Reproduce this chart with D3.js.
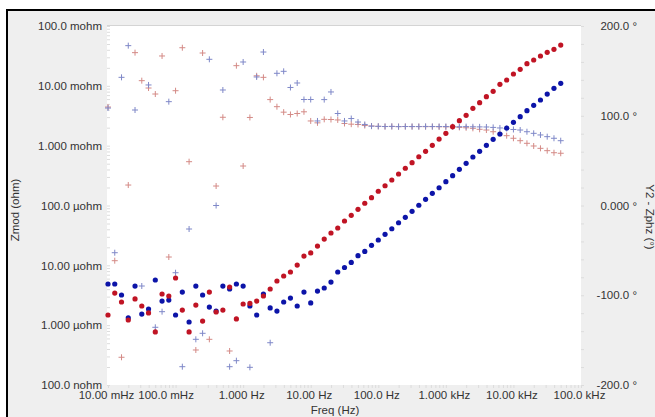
<!DOCTYPE html>
<html>
<head>
<meta charset="utf-8">
<script src="https://cdn.jsdelivr.net/npm/d3@7"></script>
<style>
  body { margin: 0; background: #fff; }
  text { font-family: "Liberation Sans", Arial, sans-serif; }
</style>
</head>
<body>
<svg id="chart" width="655" height="417"></svg>
<script>
// frequency sweep, 10 points per decade (Hz)
const freqHz = [
  0.01, 0.01259, 0.01585, 0.01995, 0.02512, 0.03162, 0.03981, 0.05012, 0.0631, 0.07943,
  0.1, 0.1259, 0.1585, 0.1995, 0.2512, 0.3162, 0.3981, 0.5012, 0.631, 0.7943,
  1, 1.259, 1.585, 1.995, 2.512, 3.162, 3.981, 5.012, 6.31, 7.943,
  10, 12.59, 15.85, 19.95, 25.12, 31.62, 39.81, 50.12, 63.1, 79.43,
  100, 125.9, 158.5, 199.5, 251.2, 316.2, 398.1, 501.2, 631, 794.3,
  1000, 1259, 1585, 1995, 2512, 3162, 3981, 5012, 6310, 7943,
  10000, 12590, 15850, 19950, 25120, 31620, 39810, 50120
];

// |Z| in micro-ohm, red and blue curves
const zmodRed = [
  1.48, 3.44, 2.44, 1.22, 2.74, 2.09, 1.60, 0.77, 3.32, 3.07,
  6.14, 1.79, 0.77, 2.17, 1.17, 3.58, 1.66, 1.79, 4.34, 1.27,
  2.26, 2.31, 2.53, 3.07, 4.02, 5.47, 6.63, 7.73, 10.1, 14.3,
  16.1, 21.0, 27.5, 34.7, 42.1, 55.1, 68.5, 86.3, 109, 135,
  173, 214, 267, 336, 419, 519, 653, 805, 1014, 1291,
  1611, 2075, 2612, 3214, 4207, 5224, 6577, 8110, 10610, 12510,
  15770, 18890, 23440, 27020, 31550, 36310, 40800, 48080
];
const zmodBlue = [
  4.88, 4.88, 3.19, 1.32, 4.51, 1.53, 1.86, 5.69, 2.53, 2.63,
  1.48, 3.58, 1.13, 4.51, 3.19, 2.01, 1.72, 4.51, 4.02, 4.88,
  4.51, 2.09, 1.48, 3.32, 1.94, 1.72, 2.44, 2.84, 2.09, 3.58,
  2.35, 3.72, 4.18, 5.26, 7.73, 9.20, 11.2, 14.5, 17.1, 21.6,
  26.5, 33.0, 40.9, 51.5, 63.5, 80.0, 101, 127, 160, 198,
  250, 315, 403, 507, 646, 805, 1014, 1276, 1567, 1972,
  2455, 3048, 3837, 4727, 5794, 7295, 9099, 11020
];

// phase in degrees
const phaseRed = [
  109.7, -61.5, -169.1, 22.8, 170.3, 139.1, 130.9, 124.2, 166.6, -57.4,
  127.9, 175.8, 48.8, -161, 169.9, -149.1, 21.7, 98.3, -162.1, 155.8,
  44, 98.1, 144.5, 142.8, 118, 110.1, 104, 101.4, 102.5, 104.4,
  94.2, 92.1, 96, 95.8, 95.3, 91.4, 90.6, 90.3, 89.1, 88.6,
  88.2, 88.0, 88.1, 87.9, 88.0, 87.9, 88.0, 87.8, 87.9, 87.7,
  87.6, 87.5, 87.0, 86.6, 86.0, 84.9, 84.1, 82.2, 79.7, 77.8,
  74.9, 72.2, 69.3, 66.3, 63.7, 61.1, 58.8, 58.2
];
const phaseBlue = [
  108.6, -52.6, 142.8, 178.1, 106.4, -89.7, 134.3, -135.7, -118.3, 115.7,
  -74.9, -179.6, -26.2, -149.1, -142.4, 162.9, 0.0, 128.7, -179.6, -172.9,
  159.9, -180.3, 143.2, 171, -152.9, 147.3, 149.5, 131.5, 136.5, 118.1,
  118.1, 94.2, 118, 126.5, 102.5, 94.2, 96.9, 93, 90.3, 88.4,
  88.2, 88.0, 88.1, 87.9, 88.0, 88.0, 87.9, 88.1, 88.0, 88.0,
  88.0, 87.9, 87.8, 87.9, 87.7, 87.6, 87.5, 87.0, 86.4, 85.8,
  84.7, 84.1, 82.2, 80.4, 78.6, 76.7, 74.9, 72.2
];

const zTicks = [1e-1, 1e-2, 1e-3, 1e-4, 1e-5, 1e-6, 1e-7];
const zTickLabels = ["100.0 mohm", "10.00 mohm", "1.000 mohm", "100.0 \u00b5ohm", "10.00 \u00b5ohm", "1.000 \u00b5ohm", "100.0 nohm"];
const fTicks = [0.01, 0.1, 1, 10, 100, 1000, 10000, 100000];
const fTickLabels = ["10.00 mHz", "100.0 mHz", "1.000 Hz", "10.00 Hz", "100.0 Hz", "1.000 kHz", "10.00 kHz", "100.0 kHz"];
const pTicks = [200, 100, 0, -100, -200];
const pTickLabels = ["200.0 \u00b0", "100.0 \u00b0", "0.000 \u00b0", "-100.0 \u00b0", "-200.0 \u00b0"];

const svg = d3.select("#chart");
const plotL = 107, plotR = 581, plotT = 26, plotB = 385;

// frame
svg.append("rect").attr("x", 7).attr("y", 10).attr("width", 660).attr("height", 420)
  .attr("fill", "#efefef").attr("stroke", "#000").attr("stroke-width", 2);
svg.append("rect").attr("x", plotL).attr("y", plotT).attr("width", plotR - plotL).attr("height", plotB - plotT)
  .attr("fill", "#fff");
svg.append("line").attr("x1", plotL).attr("x2", plotR).attr("y1", plotT - 0.5).attr("y2", plotT - 0.5)
  .attr("stroke", "#d4d4d4");

const x = d3.scaleLog().domain([0.01, 100000]).range([plotL + 1, plotR]);
const yZ = d3.scaleLog().domain([1e-7, 1e-1]).range([plotB, plotT]);
const yP = d3.scaleLinear().domain([-200, 200]).range([plotB, plotT]);

// minor tick strips
function minors(lo, hi) {
  const out = [];
  for (let e = lo; e < hi; e++) for (let k = 2; k < 10; k++) out.push(k * Math.pow(10, e));
  return out;
}
const minorStyle = g => { g.select(".domain").remove(); g.selectAll("line").attr("stroke", "#dcdcdc"); g.selectAll("text").remove(); };
svg.append("g").attr("transform", `translate(${plotL},0)`)
  .call(d3.axisLeft(yZ).tickValues(minors(-7, -1).concat(zTicks)).tickSize(-3)).call(minorStyle);
svg.append("g").attr("transform", `translate(0,${plotB})`)
  .call(d3.axisBottom(x).tickValues(minors(-2, 5).concat(fTicks)).tickSize(3)).call(minorStyle);
svg.append("g").attr("transform", `translate(${plotR},0)`)
  .call(d3.axisRight(yP).tickValues(d3.range(-200, 201, 20)).tickSize(3)).call(minorStyle);

// labelled axes
const labelStyle = g => {
  g.select(".domain").remove();
  g.selectAll("line").remove();
  g.selectAll("text").attr("fill", "#333").attr("font-size", 11.5);
};
svg.append("g").attr("transform", `translate(${plotL},0)`)
  .call(d3.axisLeft(yZ).tickValues(zTicks).tickFormat((d, i) => zTickLabels[i]).tickSize(0).tickPadding(5))
  .call(labelStyle);
svg.append("g").attr("transform", `translate(0,${plotB})`)
  .call(d3.axisBottom(x).tickValues(fTicks).tickFormat((d, i) => fTickLabels[i]).tickSize(0).tickPadding(6))
  .call(labelStyle)
  .selectAll("text").attr("dx", (d, i) => i === 1 ? -10 : -2);
svg.append("g").attr("transform", `translate(${plotR},0)`)
  .call(d3.axisRight(yP).tickValues(pTicks).tickFormat((d, i) => pTickLabels[i]).tickSize(0).tickPadding(56))
  .call(labelStyle)
  .selectAll("text").attr("text-anchor", "end");

// axis titles
svg.append("text").attr("transform", "translate(19,210) rotate(-90)")
  .attr("text-anchor", "middle").attr("font-size", 11.5).attr("fill", "#333").text("Zmod (ohm)");
svg.append("text").attr("x", 335).attr("y", 414)
  .attr("text-anchor", "middle").attr("font-size", 11.5).attr("fill", "#333").text("Freq (Hz)");
svg.append("text").attr("transform", "translate(646,217) rotate(90)")
  .attr("text-anchor", "middle").attr("font-size", 11.5).attr("fill", "#333").text("Y2 - Zphz (\u00b0)");

// data marks
const plot = svg.append("g");
function crosses(vals, color) {
  const pts = freqHz.map((f, i) => [x(f), yP(vals[i])]);
  plot.append("path")
    .attr("d", pts.map(p => `M${p[0] - 3},${p[1]}h6M${p[0]},${p[1] - 3}v6`).join(""))
    .attr("stroke", color).attr("stroke-width", 1).attr("fill", "none");
}
function dots(vals, color) {
  plot.selectAll(null).data(freqHz).enter().append("circle")
    .attr("cx", d => x(d))
    .attr("cy", (d, i) => yZ(vals[i] * 1e-6))
    .attr("r", 2.6)
    .attr("fill", color);
}
crosses(phaseRed, "#d48a86");
crosses(phaseBlue, "#7f88c8");
dots(zmodBlue, "#0c14a8");
dots(zmodRed, "#c01424");
</script>
</body>
</html>
